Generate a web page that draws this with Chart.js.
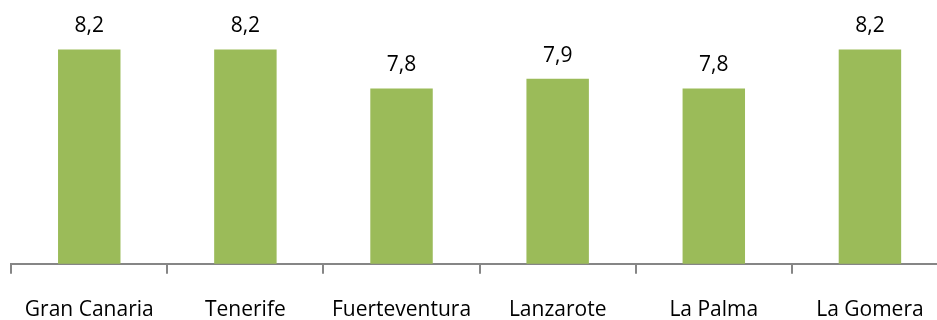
<!DOCTYPE html>
<html>
<head>
<meta charset="utf-8">
<style>
  html, body { margin: 0; padding: 0; background: #ffffff; overflow: hidden; }
  #wrap { width: 950px; height: 347px; }
</style>
<script src="https://cdn.jsdelivr.net/npm/chart.js@4/dist/chart.umd.min.js"></script>
</head>
<body>
<div id="wrap"><canvas id="chart" width="950" height="347"></canvas></div>
<script>
const islands = ['Gran Canaria', 'Tenerife', 'Fuerteventura', 'Lanzarote', 'La Palma', 'La Gomera'];
const scores = [8.2, 8.2, 7.8, 7.9, 7.8, 8.2];

const barColor = '#9BBB59';
const axisColor = '#868686';
const textFont = '"Open Sans", Lato, sans-serif';

// Draws each bar's value above it, with a decimal comma.
const valueLabels = {
  id: 'valueLabels',
  afterDatasetsDraw(chart) {
    const ctx = chart.ctx;
    const meta = chart.getDatasetMeta(0);
    ctx.save();
    ctx.font = '21px ' + textFont;
    ctx.fillStyle = '#000000';
    ctx.textAlign = 'center';
    ctx.textBaseline = 'middle';
    meta.data.forEach((bar, i) => {
      const v = chart.data.datasets[0].data[i];
      ctx.fillText(v.toFixed(1).replace('.', ','), bar.x, bar.y - 23);
    });
    ctx.restore();
  }
};

new Chart(document.getElementById('chart'), {
  type: 'bar',
  data: {
    labels: islands,
    datasets: [{
      data: scores,
      backgroundColor: barColor,
      borderWidth: 0,
      categoryPercentage: 1.0,
      barPercentage: 0.4
    }]
  },
  options: {
    responsive: false,
    animation: false,
    layout: { padding: { left: 10, right: 2, top: 30, bottom: 0 } },
    plugins: { legend: { display: false }, tooltip: { enabled: false } },
    scales: {
      y: {
        display: false,
        min: 6,
        max: 8.4
      },
      x: {
        offset: true,
        border: { display: true, color: axisColor, width: 2 },
        grid: {
          offset: true,
          drawOnChartArea: false,
          drawTicks: true,
          tickLength: 10,
          color: axisColor,
          lineWidth: 2
        },
        ticks: {
          color: '#000000',
          font: { family: textFont, size: 21 },
          padding: 24,
          maxRotation: 0,
          autoSkip: false
        }
      }
    }
  },
  plugins: [valueLabels]
});
</script>
</body>
</html>
